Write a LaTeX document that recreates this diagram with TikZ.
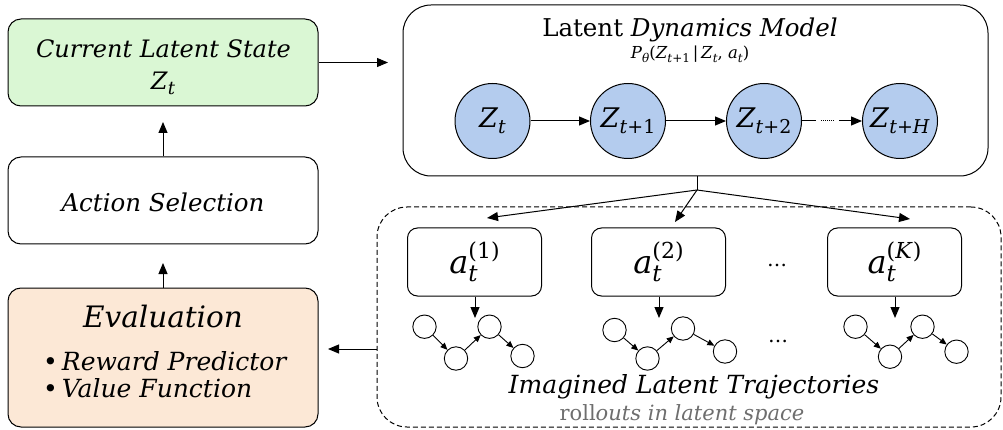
\documentclass[tikz,border=0pt]{standalone}
\usepackage{fontspec}
\setmainfont{DejaVu Serif}
\usetikzlibrary{arrows.meta}
\newcommand{\mylo}[3]{\raisebox{-#1pt}{\fontsize{#2}{#2}\selectfont #3}}
\newcommand{\myhi}[3]{\raisebox{#1pt}{\fontsize{#2}{#2}\selectfont #3}}
\definecolor{cgreen}{RGB}{218,247,212}
\definecolor{cpeach}{RGB}{252,232,214}
\definecolor{cblue}{RGB}{180,204,238}
\definecolor{cgray}{RGB}{110,110,110}
\begin{document}
\begin{tikzpicture}[x=1pt,y=-1pt,
 box/.style={draw, line width=1pt, rounded corners=13pt, minimum width=310pt, inner sep=0pt},
 abox/.style={draw, line width=1pt, rounded corners=10pt, minimum width=134pt, minimum height=68pt, inner sep=0pt, font=\fontsize{32}{36}\selectfont},
 zc/.style={circle, draw, line width=1pt, fill=cblue, minimum size=75pt, inner sep=0pt, font=\fontsize{27}{30}\selectfont},
 mc/.style={circle, draw, line width=0.9pt, minimum size=23.4pt, inner sep=0pt},
 arr/.style={line width=1pt, -{Triangle[length=11pt,width=9pt]}},
 marr/.style={line width=0.9pt, -{Triangle[length=7pt,width=6pt]}},
 lbl/.style={anchor=base, inner sep=0pt},
 dotsl/.style={inner sep=0pt, font=\fontsize{20}{20}\selectfont},
]
\useasboundingbox (0,0) rectangle (1003,430);

% left column
\node[box, fill=cgreen, minimum height=87pt] (cur) at (163,62.5) {};
\node[box, minimum height=87pt] (act) at (163,200.5) {};
\node[box, fill=cpeach, minimum height=139pt] (ev) at (163,357.5) {};

\node[lbl, font=\itshape\fontsize{24}{26}\selectfont] (curt) at (163.5,58) {Current Latent State};
\node[lbl, font=\fontsize{24}{26}\selectfont] (curz) at (163,90) {\textit{Z}\mylo{5}{18}{\textit{t}}};
\node[lbl, font=\itshape\fontsize{24.5}{26}\selectfont] (actt) at (163,212) {Action Selection};
\node[lbl, font=\itshape\fontsize{29.5}{32}\selectfont] (evt) at (163,327) {Evaluation};
\node[lbl, anchor=base west, font=\fontsize{25}{27}\selectfont] (ev1) at (43,370) {•\hspace{4pt}\textit{Reward Predictor}};
\node[lbl, anchor=base west, font=\fontsize{25}{27}\selectfont] (ev2) at (43,397) {•\hspace{4pt}\textit{Value Function}};

\coordinate (t_act) at (163,263);
\coordinate (t_cur) at (163,122);
\draw[arr] (ev.north) -- (t_act);
\draw[arr] (act.north) -- (t_cur);

% dynamics model
\node[draw, line width=1pt, rounded corners=28pt, minimum width=585pt, minimum height=171pt, inner sep=0pt] (dyn) at (695.5,90.5) {};
\node[lbl, font=\fontsize{24.5}{26}\selectfont] (dynt) at (690,37) {Latent \textit{Dynamics Model}};
\node[lbl, font=\fontsize{16.5}{18}\selectfont] (form) at (690,59) {\textit{P}\mylo{4}{12}{\textit{θ}}(\textit{Z}\mylo{4}{12}{\textit{t}+1}\,|\,\textit{Z}\mylo{4}{12}{\textit{t}}, \textit{a}\mylo{4}{12}{\textit{t}})};

\node[zc] (z0) at (492.5,121) {\textit{Z}\mylo{6}{19}{\textit{t}}};
\node[zc] (z1) at (628,121) {\textit{Z}\mylo{6}{19}{\textit{t}+1}};
\node[zc] (z2) at (764,121) {\textit{Z}\mylo{6}{19}{\textit{t}+2}};
\node[zc] (zH) at (900,121) {\textit{Z}\mylo{6}{19}{\textit{t}+\textit{H}}};
\draw[arr] (z0) -- (z1);
\draw[arr] (z1) -- (z2);
\draw[arr, dash pattern=on 14pt off 5pt on 1pt off 1pt on 1pt off 1pt on 1pt off 1pt on 1pt off 1pt on 1pt off 1pt on 1pt off 1pt on 1pt off 5pt on 60pt] (z2) -- (zH);

\coordinate (cin) at (388,62.5);
\draw[arr] (cur.east) -- (cin);

% imagined trajectories
\node[draw, line width=1pt, dash pattern=on 5pt off 3pt, rounded corners=30pt, minimum width=624pt, minimum height=220pt, inner sep=0pt] (img) at (689,317) {};

\coordinate (jn) at (697,190);
\draw[line width=1pt] (dyn.south -| jn) -- (jn);
\coordinate (t1) at (487,218);
\coordinate (t2) at (675,222);
\coordinate (tK) at (910,219);
\draw[arr] (jn) -- (t1);
\draw[arr] (jn) -- (t2);
\draw[arr] (jn) -- (tK);

\node[abox] (a1) at (474.5,262) {\textit{a}\rlap{\mylo{8}{23}{\textit{t}}}\myhi{15}{22}{(1)}};
\node[abox] (a2) at (658.5,262) {\textit{a}\rlap{\mylo{8}{23}{\textit{t}}}\myhi{15}{22}{(2)}};
\node[abox] (aK) at (894.5,262) {\textit{a}\rlap{\mylo{8}{23}{\textit{t}}}\myhi{15}{22}{(\textit{K})}};
\node[dotsl] (dots1) at (777,265) {…};

\coordinate (d1) at (475,318);
\coordinate (d2) at (659,318);
\coordinate (dK) at (895,318);
\draw[arr] (a1.south -| d1) -- (d1);
\draw[arr] (a2.south -| d2) -- (d2);
\draw[arr] (aK.south -| dK) -- (dK);

\node[mc] (m11) at (424.5,326.7) {};
\node[mc] (m12) at (456,358.5) {};
\node[mc] (m13) at (489.5,326.7) {};
\node[mc] (m14) at (522.5,356) {};
\node[mc] (m21) at (614.5,330) {};
\node[mc] (m22) at (647.5,358.5) {};
\node[mc] (m23) at (683,328.5) {};
\node[mc] (m24) at (725,351.5) {};
\node[mc] (m31) at (855.5,326.7) {};
\node[mc] (m32) at (890,356.7) {};
\node[mc] (m33) at (922.5,326.7) {};
\node[mc] (m34) at (956.5,351.7) {};
\foreach \g in {1,2,3}{
  \draw[marr] (m\g1) -- (m\g2);
  \draw[marr] (m\g2) -- (m\g3);
  \draw[marr] (m\g3) -- (m\g4);
}
\node[dotsl] (dots2) at (778,341) {…};

\node[lbl, font=\itshape\fontsize{25}{27}\selectfont] (imt) at (694,393) {Imagined Latent Trajectories};
\node[lbl, text=cgray, font=\fontsize{21}{23}\selectfont] (rot) at (682,420) {roll\textit{outs in latent space}};

\coordinate (evin) at (328,349);
\draw[arr] (img.west |- evin) -- (evin);
\end{tikzpicture}
\end{document}
